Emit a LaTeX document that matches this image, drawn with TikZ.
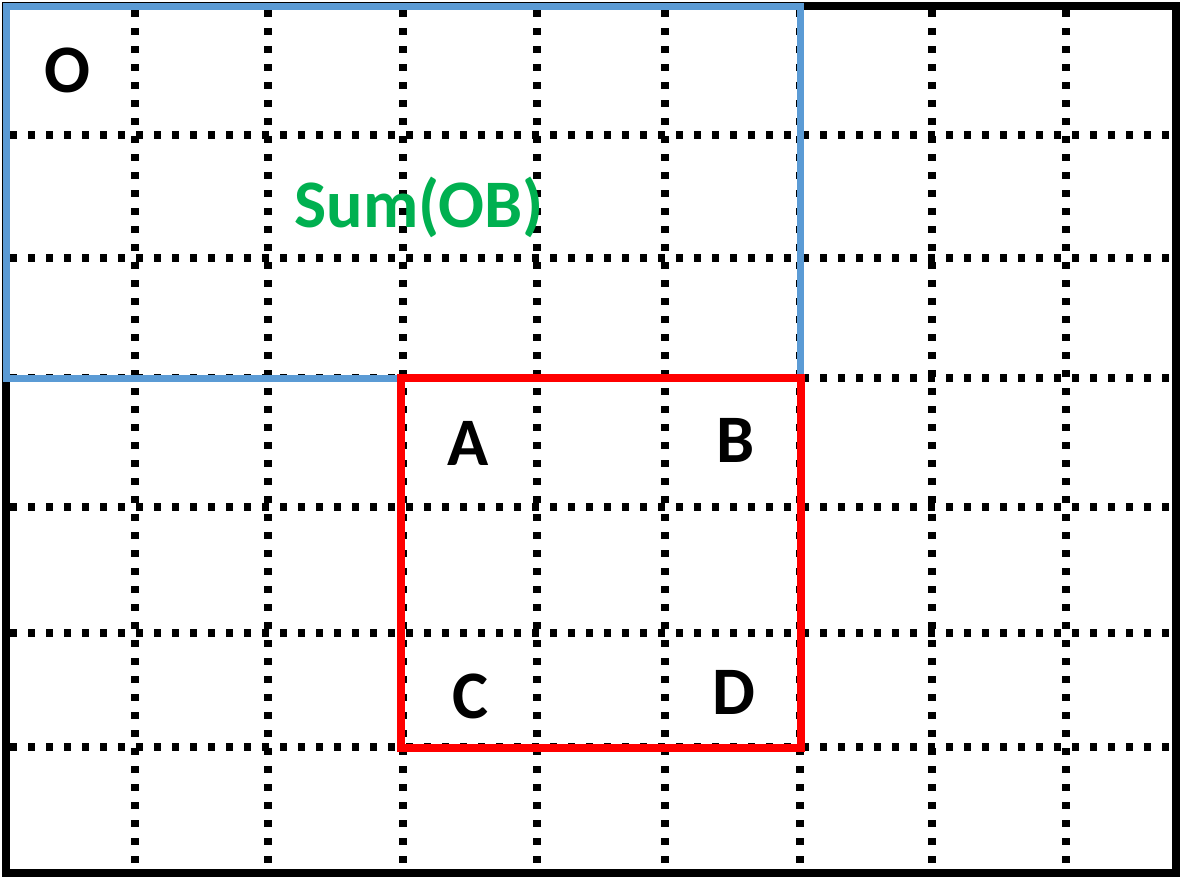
\documentclass[tikz,border=0pt]{standalone}
\usepackage{fontspec}
\setmainfont{Carlito}
\definecolor{boxblue}{RGB}{91,155,213}
\definecolor{sumgreen}{RGB}{0,176,80}
\tikzset{every picture/.style={line width=0.75pt}}
\tikzset{
  gridline/.style={line width=7.5pt, dash pattern={on 7pt off 11pt}},
  letter/.style={font=\bfseries\fontsize{68}{80}\selectfont, inner sep=0pt}
}
\begin{document}
\begin{tikzpicture}[x=1pt,y=1pt,yscale=-1,xscale=1]
\useasboundingbox (0,0) rectangle (1186,884);

%Dotted grid, vertical
\foreach \gx in {135,268,403,537,665,800,932,1066}
  \draw [gridline] (\gx,10) -- (\gx,870) ;
%Dotted grid, horizontal
\foreach \gy in {135,258,378,507,633,747}
  \draw [gridline] (10,\gy) -- (1174,\gy) ;

%Outer frame
\draw [line width=8pt] (6,6) rectangle (1176,873) ;
%Blue box
\draw [color=boxblue, line width=7pt] (6,6) rectangle (800,378) ;
%Red box
\draw [color=red, line width=7.5pt] (401,378) rectangle (801,748) ;

%Labels
\node [letter] (o) at (67,70) {O};
\node [letter, text=sumgreen] (sumob) at (419,207) {Sum(OB)};
\node [letter] (a) at (468,443) {A};
\node [letter] (b) at (736,440) {B};
\node [letter] (c) at (470,696) {C};
\node [letter] (d) at (734,692) {D};

\end{tikzpicture}
\end{document}
